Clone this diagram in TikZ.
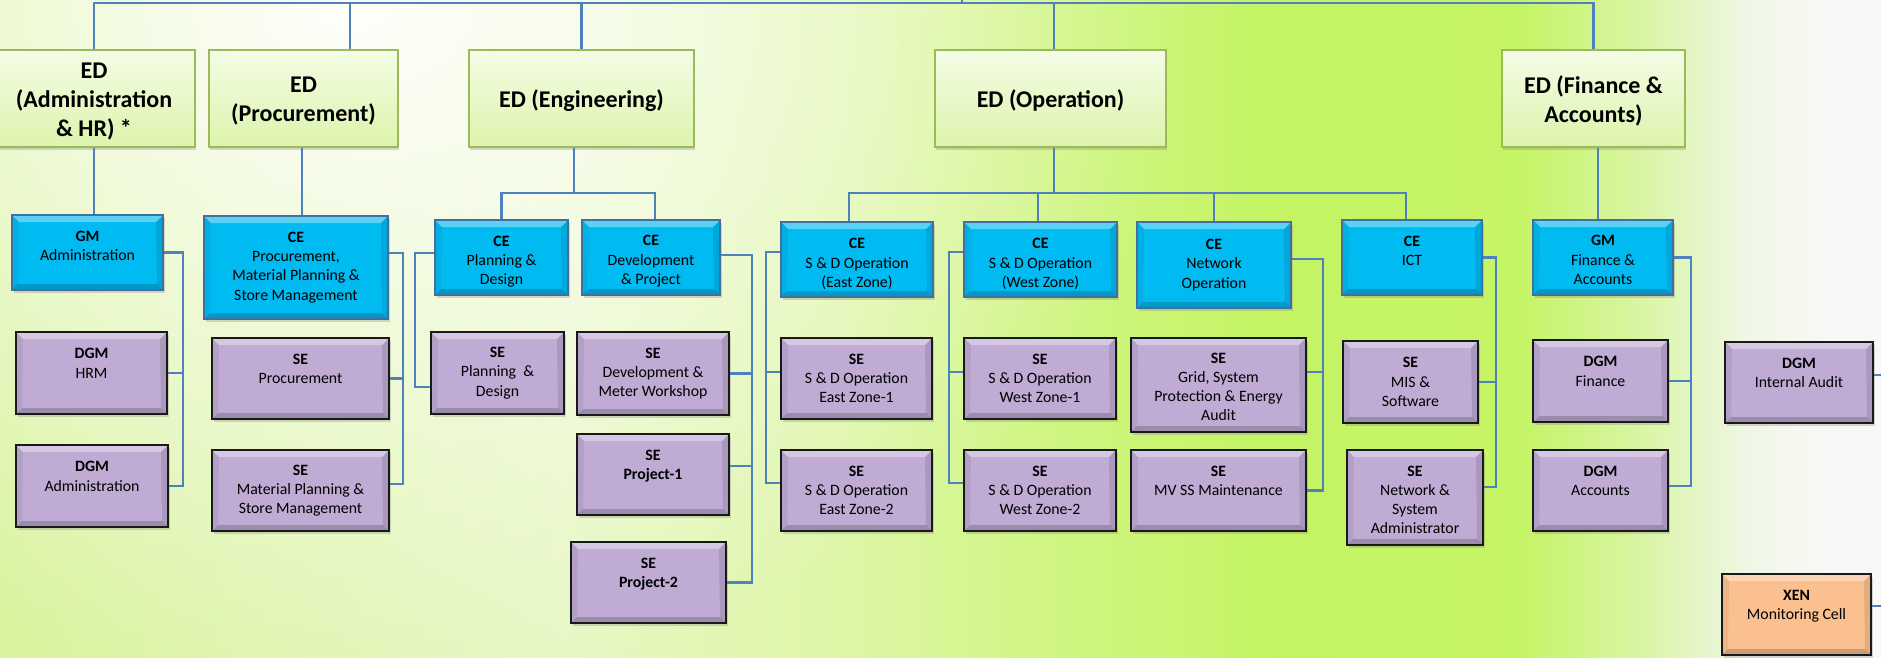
\documentclass[tikz,border=0pt]{standalone}
\usepackage{fontspec}
\setmainfont{Carlito}
\usetikzlibrary{shadows,fadings,calc}
\newcommand{\tsp}[1]{\rule{0pt}{#1pt}}
\definecolor{connc}{HTML}{4F81BD}
\definecolor{edfillT}{HTML}{F4FCE6}
\definecolor{edfillB}{HTML}{DDF4AC}
\definecolor{edline}{HTML}{9BBB59}
\definecolor{bluefill}{HTML}{00BAF2}
\definecolor{blueline}{HTML}{41709E}
\definecolor{purpfill}{HTML}{BFABD3}
\definecolor{orfill}{HTML}{FAC08F}
\definecolor{ga}{HTML}{D8F39C}
\definecolor{gb}{HTML}{E6F7C2}
\definecolor{gc}{HTML}{DDF6A6}
\definecolor{gd}{HTML}{CDF57C}
\definecolor{ge}{HTML}{C4F463}
\definecolor{gf}{HTML}{C6F467}
\definecolor{gg}{HTML}{D8F5A2}
\definecolor{gh}{HTML}{F0F7E6}
\definecolor{gi}{HTML}{F8F8F6}
\definecolor{gj}{HTML}{F8F8F8}
\pgfdeclarehorizontalshading{bgshade}{100bp}{color(0bp)=(ga); color(25bp)=(ga); color(40bp)=(gb); color(47.5bp)=(gc); color(54bp)=(gd); color(59bp)=(ge); color(65.5bp)=(gf); color(68.5bp)=(gg); color(71.5bp)=(gh); color(73.5bp)=(gi); color(75bp)=(gj); color(100bp)=(gj)}
\tikzfading[name=whitefade, inner color=transparent!0, outer color=transparent!100]
\pgfdeclarelayer{bg}
\pgfdeclarelayer{lines}
\pgfsetlayers{bg,lines,main}
\begin{document}
\begin{tikzpicture}[x=1pt,y=-1pt,
  conn/.style={draw=connc, line width=2.2pt},
  bevel/.style={path picture={
    \coordinate (bnw) at (path picture bounding box.north west);
    \coordinate (bse) at (path picture bounding box.south east);
    \fill[white, opacity=0.35] (bnw) -- (bnw -| bse) -- ([xshift=-7pt,yshift=-7pt]bnw -| bse) -- ([xshift=7pt,yshift=-7pt]bnw) -- cycle;
    \fill[black, opacity=0.18] (bnw |- bse) -- (bse) -- ([xshift=-6pt,yshift=6pt]bse) -- ([xshift=6pt,yshift=6pt]bnw |- bse) -- cycle;
    \fill[black, opacity=0.06] (bnw) -- ([xshift=7pt,yshift=-7pt]bnw) -- ([xshift=6pt,yshift=6pt]bnw |- bse) -- (bnw |- bse) -- cycle;
    \fill[black, opacity=0.10] (bnw -| bse) -- ([xshift=-7pt,yshift=-7pt]bnw -| bse) -- ([xshift=-6pt,yshift=6pt]bse) -- (bse) -- cycle;
  }},
  basebox/.style={align=center, inner sep=2pt, font=\fontsize{15.8}{19.3}\selectfont},
  edbox/.style={draw=edline, line width=2.2pt, top color=edfillT, bottom color=edfillB, align=center,
    font=\fontsize{24}{28.8}\selectfont\bfseries,
    drop shadow={shadow xshift=1pt, shadow yshift=-3pt, opacity=0.3}},
  bluebox/.style={basebox, draw=blueline, line width=2pt, fill=bluefill, bevel,
    drop shadow={shadow xshift=2pt, shadow yshift=-3pt, opacity=0.3}},
  purpbox/.style={basebox, draw=black!90, line width=2.4pt, fill=purpfill, bevel,
    drop shadow={shadow xshift=2pt, shadow yshift=-3pt, opacity=0.3}},
  orbox/.style={purpbox, fill=orfill},
  sz/.style 2 args={minimum width=#1pt, minimum height=#2pt}
]
\useasboundingbox (0,0) rectangle (1881,657);
\begin{pgfonlayer}{bg}
\shade[shading=bgshade] (0,0) rectangle (1881,657);
\fill[white, path fading=whitefade, fill opacity=0.95] (350,0) ellipse [x radius=850, y radius=700];
\end{pgfonlayer}

% ED row
\node[edbox, sz={202}{97}] (edA) at (94,98.5) {\tsp{22}ED\\(Administration\\\& HR) *};
\node[edbox, sz={189}{97}] (edP) at (303.5,98.5) {\tsp{20}ED\\(Procurement)};
\node[edbox, sz={225}{97}] (edE) at (581.5,98.5) {\tsp{21.2}ED (Engineering)};
\node[edbox, sz={231}{97}] (edO) at (1050.5,98.5) {\tsp{21.2}ED (Operation)};
\node[edbox, sz={183}{97}] (edF) at (1593.5,98.5) {\tsp{22}ED (Finance \&\\Accounts)};

% blue row
\node[bluebox, sz={151}{75}] (gmA) at (87.5,252.5) {\tsp{15.6}\textbf{GM}\\Administration\\~};
\node[bluebox, sz={184}{103}] (ceP) at (296,267.5) {\textbf{CE}\\Procurement,\\Material Planning \&\\Store Management};
\node[bluebox, sz={133}{75}] (cePD) at (501.5,257.5) {\tsp{18.6}\textbf{CE}\\Planning \&\\Design};
\node[bluebox, sz={138}{75}] (ceD) at (651,257.5) {\tsp{18}\textbf{CE}\\Development\\\& Project};
\node[bluebox, sz={152}{75}] (ceE) at (857,259.5) {\tsp{19.2}\textbf{CE}\\S \& D Operation\\(East Zone)};
\node[bluebox, sz={153}{75}] (ceW) at (1040.5,259.5) {\tsp{19.2}\textbf{CE}\\S \& D Operation\\(West Zone)};
\node[bluebox, sz={154}{86}] (ceN) at (1214,265) {\textbf{CE}\\Network\\Operation};
\node[bluebox, sz={140}{75}] (ceI) at (1412,257.5) {\tsp{15.6}\textbf{CE}\\ICT\\~};
\node[bluebox, sz={140}{75}] (gmF) at (1603,257.5) {\tsp{15.6}\textbf{GM}\\Finance \&\\Accounts};

% purple row
\node[purpbox, sz={151}{82}] (dgmH) at (91.5,373) {\textbf{DGM}\\HRM\\~};
\node[purpbox, sz={152}{82}] (dgmAd) at (92,486) {\textbf{DGM}\\Administration\\~};
\node[purpbox, sz={177}{81}] (seP) at (300.5,378.5) {\textbf{SE}\\Procurement\\~};
\node[purpbox, sz={177}{81}] (seM) at (300.5,490.5) {\textbf{SE}\\Material Planning \&\\Store Management};
\node[purpbox, sz={133}{82}] (sePD) at (497.5,373) {\textbf{SE}\\Planning~~\&\\Design};
\node[purpbox, sz={152}{83}] (seD) at (653,373.5) {\textbf{SE}\\Development \&\\Meter Workshop};
\node[purpbox, sz={152}{81}] (seP1) at (653,474.5) {\textbf{SE}\\\textbf{Project-1}\\~};
\node[purpbox, sz={155}{81}] (seP2) at (648.5,582.5) {\textbf{SE}\\\textbf{Project-2}\\~};
\node[purpbox, sz={151}{81}] (seE1) at (856.5,378.5) {\textbf{SE}\\S \& D Operation\\East Zone-1};
\node[purpbox, sz={151}{81}] (seE2) at (856.5,490.5) {\textbf{SE}\\S \& D Operation\\East Zone-2};
\node[purpbox, sz={152}{81}] (seW1) at (1040,378.5) {\textbf{SE}\\S \& D Operation\\West Zone-1};
\node[purpbox, sz={152}{81}] (seW2) at (1040,490.5) {\textbf{SE}\\S \& D Operation\\West Zone-2};
\node[purpbox, sz={175}{94}] (seG) at (1218.5,385) {\tsp{14}\textbf{SE}\\Grid, System\\Protection \& Energy\\Audit};
\node[purpbox, sz={175}{81}] (seMV) at (1218.5,490.5) {\textbf{SE}\\MV SS Maintenance\\~};
\node[purpbox, sz={135}{82}] (seMIS) at (1410.5,382) {\textbf{SE}\\MIS \&\\Software};
\node[purpbox, sz={136}{95}] (seNS) at (1415,497.5) {\tsp{15}\textbf{SE}\\Network \&\\System\\Administrator};
\node[purpbox, sz={135}{82}] (dgmFi) at (1600.5,381) {\textbf{DGM}\\Finance\\~};
\node[purpbox, sz={135}{81}] (dgmAc) at (1600.5,490.5) {\textbf{DGM}\\Accounts\\~};
\node[purpbox, sz={148}{81}] (dgmIA) at (1799,382.5) {\textbf{DGM}\\Internal Audit\\~};
\node[orbox, sz={149}{81}] (xen) at (1796.5,614.5) {\textbf{XEN}\\Monitoring Cell\\~};

% connectors
\begin{pgfonlayer}{lines}
\coordinate (busY) at (0,3);
\coordinate (root) at (962,0);
\coordinate (midY) at (0,193);
\coordinate (iaEnd) at (1881,375);
\coordinate (xenEnd) at (1881,606);
\coordinate (p1s) at ([yshift=8.5pt]seP1.east);
\coordinate (e1s) at ([yshift=6.5pt]seE1.west);
\coordinate (w1s) at ([yshift=6.5pt]seW1.west);
\coordinate (gs) at ([yshift=13pt]seG.east);
\draw[conn] (edA.north) -- (edA.north |- busY) -- (edF.north |- busY) -- (edF.north);
\draw[conn] (root) -- (root |- busY);
\draw[conn] ([xshift=46.5pt]edP.north) -- ([xshift=46.5pt]edP.north |- busY);
\draw[conn] (edE.north) -- (edE.north |- busY);
\draw[conn] ([xshift=3.5pt]edO.north) -- ([xshift=3.5pt]edO.north |- busY);

\draw[conn] (edA.south) -- (edA.south |- gmA.north);
\draw[conn] ([xshift=-1.5pt]edP.south) -- ([xshift=-1.5pt]edP.south |- ceP.north);
\draw[conn] ([xshift=-7.5pt]edE.south) -- ([xshift=-7.5pt]edE.south |- midY);
\draw[conn] (cePD.north) -- (cePD.north |- midY) -- ([xshift=4pt]ceD.north |- midY) -- ([xshift=4pt]ceD.north);
\draw[conn] ([xshift=3.5pt]edO.south) -- ([xshift=3.5pt]edO.south |- midY);
\draw[conn] ([xshift=-8pt]ceE.north) -- ([xshift=-8pt]ceE.north |- midY) -- ([xshift=-6pt]ceI.north |- midY) -- ([xshift=-6pt]ceI.north);
\draw[conn] ([xshift=-2.5pt]ceW.north) -- ([xshift=-2.5pt]ceW.north |- midY);
\draw[conn] (ceN.north) -- (ceN.north |- midY);
\draw[conn] ([xshift=4.5pt]edF.south) -- ([xshift=4.5pt]edF.south |- gmF.north);

% side buses
\draw[conn] (gmA.east) -- ++(19,0) coordinate (bA) |- (dgmAd.east);
\draw[conn] (bA |- dgmH.east) -- (dgmH.east);

\draw[conn] ([yshift=14.5pt]ceP.east) -- ++(14,0) coordinate (bP) |- ([yshift=6.5pt]seM.east);
\draw[conn] (bP |- seP.east) -- (seP.east);

\draw[conn] ([yshift=4.5pt]cePD.west) -- ++(-19,0) coordinate (bPD) |- ([yshift=-14pt]sePD.west);

\draw[conn] ([yshift=2.5pt]ceD.east) -- ++(31,0) coordinate (bD) |- (seP2.east);
\draw[conn] (bD |- seD.east) -- (seD.east);
\draw[conn] (bD |- p1s) -- (p1s);

\draw[conn] ([yshift=7.5pt]ceE.west) -- ++(-14,0) coordinate (bE) |- ([yshift=7.5pt]seE2.west);
\draw[conn] (bE |- e1s) -- (e1s);

\draw[conn] ([yshift=7.5pt]ceW.west) -- ++(-14,0) coordinate (bW) |- ([yshift=7.5pt]seW2.west);
\draw[conn] (bW |- w1s) -- (w1s);

\draw[conn] ([yshift=6pt]ceN.east) -- ++(31,0) coordinate (bN) |- (seMV.east);
\draw[conn] (bN |- gs) -- (gs);

\draw[conn] (ceI.east) -- ++(13,0) coordinate (bI) |- ([yshift=10.5pt]seNS.east);
\draw[conn] (bI |- seMIS.east) -- (seMIS.east);

\draw[conn] (gmF.east) -- ++(17,0) coordinate (bF) |- ([yshift=4.5pt]dgmAc.east);
\draw[conn] (bF |- dgmFi.east) -- (dgmFi.east);

\draw[conn] ([yshift=7.5pt]dgmIA.east) -- (iaEnd);
\draw[conn] ([yshift=8.5pt]xen.east) -- (xenEnd);
\end{pgfonlayer}
\end{tikzpicture}
\end{document}
